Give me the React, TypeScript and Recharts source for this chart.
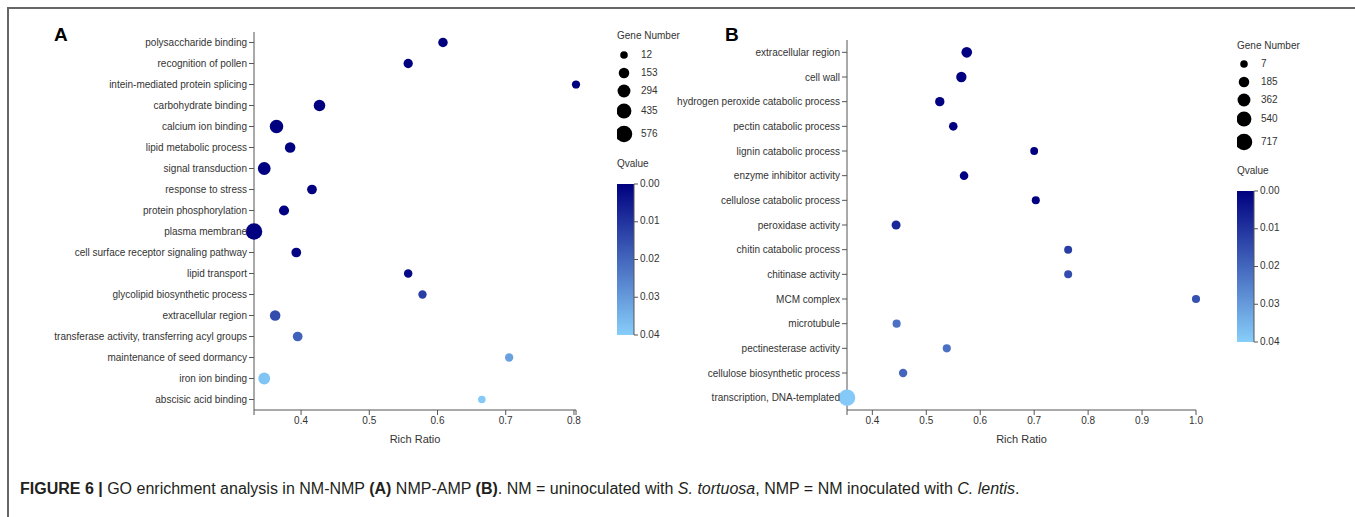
import { ScatterChart, Scatter, XAxis, YAxis, ZAxis, Cell } from 'recharts';

// panel A: NM-NMP
const termsA = [
  'polysaccharide binding',
  'recognition of pollen',
  'intein-mediated protein splicing',
  'carbohydrate binding',
  'calcium ion binding',
  'lipid metabolic process',
  'signal transduction',
  'response to stress',
  'protein phosphorylation',
  'plasma membrane',
  'cell surface receptor signaling pathway',
  'lipid transport',
  'glycolipid biosynthetic process',
  'extracellular region',
  'transferase activity, transferring acyl groups',
  'maintenance of seed dormancy',
  'iron ion binding',
  'abscisic acid binding',
];
const ratioA = [0.608, 0.557, 0.803, 0.427, 0.364, 0.384, 0.346, 0.416, 0.375, 0.331, 0.393, 0.557, 0.578, 0.362, 0.395, 0.705, 0.346, 0.665];
const genesA = [99, 90, 40, 210, 341, 153, 287, 110, 131, 576, 110, 50, 45, 153, 110, 45, 223, 12];
const qA = [0, 0, 0, 0, 0, 0, 0, 0, 0, 0, 0.001, 0.002, 0.012, 0.015, 0.019, 0.031, 0.038, 0.039];
const geneTicksA = [12, 153, 294, 435, 576];

// panel B: NMP-AMP
const termsB = [
  'extracellular region',
  'cell wall',
  'hydrogen peroxide catabolic process',
  'pectin catabolic process',
  'lignin catabolic process',
  'enzyme inhibitor activity',
  'cellulose catabolic process',
  'peroxidase activity',
  'chitin catabolic process',
  'chitinase activity',
  'MCM complex',
  'microtubule',
  'pectinesterase activity',
  'cellulose biosynthetic process',
  'transcription, DNA-templated',
];
const ratioB = [0.575, 0.565, 0.525, 0.55, 0.7, 0.57, 0.703, 0.444, 0.763, 0.763, 1.0, 0.445, 0.538, 0.457, 0.353];
const genesB = [191, 170, 107, 61, 20, 61, 30, 86, 28, 28, 35, 35, 35, 50, 717];
const qB = [0, 0, 0, 0, 0, 0, 0, 0.008, 0.012, 0.015, 0.016, 0.022, 0.022, 0.02, 0.039];
const geneTicksB = [7, 185, 362, 540, 717];

const qTicks = [0, 0.01, 0.02, 0.03, 0.04];
const ratioTicksA = [0.4, 0.5, 0.6, 0.7, 0.8];
const ratioTicksB = [0.4, 0.5, 0.6, 0.7, 0.8, 0.9, 1.0];

const FONT = '"Liberation Sans", Arial, sans-serif';
const AXIS = '#555';
const LABEL = '#333';
const Z_RANGE: [number, number] = [45, 215];
const Q_MAX = 0.04;
const DARK = [0, 0, 128];
const LIGHT = [135, 206, 250];

function qColor(q: number) {
  const t = Math.max(0, Math.min(1, q / Q_MAX));
  const c = DARK.map((d, i) => Math.round(d + (LIGHT[i] - d) * t));
  return `rgb(${c[0]},${c[1]},${c[2]})`;
}

function build(terms: string[], ratio: number[], genes: number[], q: number[]) {
  return terms.map((term, i) => ({ term, ratio: ratio[i], genes: genes[i], q: q[i] }));
}

const tickStyle = { fontSize: 10, fill: LABEL, fontFamily: FONT };

// single-line category labels (recharts wraps long ones otherwise)
function TermTick(props: any) {
  const { x, y, payload } = props;
  return (
    <text x={x} y={y} textAnchor="end" dominantBaseline="central" fontSize={10} fill={LABEL} fontFamily={FONT}>
      {payload.value}
    </text>
  );
}

interface PanelProps {
  data: { term: string; ratio: number; genes: number; q: number }[];
  left: number;
  width: number;
  top: number;
  yWidth: number;
  marginLeft: number;
  domain: [number, number];
  ticks: number[];
  zDomain: [number, number];
}

function Panel({ data, left, width, top, yWidth, marginLeft, domain, ticks, zDomain }: PanelProps) {
  // d3-like outer ticks at the domain ends, unlabelled
  const allTicks = Array.from(new Set([domain[0], ...ticks, domain[1]]));
  return (
    <div style={{ position: 'absolute', left, top: 0 }}>
      <ScatterChart width={width} height={450} margin={{ top, right: 24, left: marginLeft, bottom: 0 }}>
        <XAxis
          type="number"
          dataKey="ratio"
          domain={domain}
          ticks={allTicks}
          interval={0}
          height={40}
          tick={tickStyle}
          tickSize={5}
          tickMargin={2}
          stroke={AXIS}
          tickFormatter={(v: number) => (ticks.includes(v) ? v.toFixed(1) : '')}
          label={{ value: 'Rich Ratio', position: 'insideBottom', offset: 7, style: { fontSize: 11, fill: LABEL, fontFamily: FONT } }}
        />
        <YAxis
          type="category"
          dataKey="term"
          width={yWidth}
          tick={<TermTick />}
          tickSize={5}
          tickMargin={2}
          stroke={AXIS}
          interval={0}
          reversed
        />
        <ZAxis type="number" dataKey="genes" range={Z_RANGE} domain={zDomain} />
        <Scatter data={data} isAnimationActive={false}>
          {data.map((d, i) => (
            <Cell key={i} fill={qColor(d.q)} />
          ))}
        </Scatter>
      </ScatterChart>
    </div>
  );
}

function radiusFor(g: number, zDomain: [number, number]) {
  const t = (g - zDomain[0]) / (zDomain[1] - zDomain[0]);
  const area = Z_RANGE[0] + (Z_RANGE[1] - Z_RANGE[0]) * t;
  return Math.sqrt(area / Math.PI);
}

function Legend({ left, top, genes, zDomain, ys, barTop }: { left: number; top: number; genes: number[]; zDomain: [number, number]; ys: number[]; barTop: number }) {
  const barH = 151;
  const gid = `qgrad${left}`;
  return (
    <svg style={{ position: 'absolute', left, top: 0 }} width={80} height={360} fontFamily={FONT}>
      <defs>
        <linearGradient id={gid} x1="0" y1="0" x2="0" y2="1">
          <stop offset="0%" stopColor={qColor(0)} />
          <stop offset="100%" stopColor={qColor(Q_MAX)} />
        </linearGradient>
      </defs>
      <text x={0} y={top} fontSize={10} fill={LABEL} dominantBaseline="middle">Gene Number</text>
      {genes.map((g, i) => (
        <g key={g}>
          <circle cx={7} cy={ys[i]} r={radiusFor(g, zDomain)} fill="#000" />
          <text x={24} y={ys[i]} fontSize={10} fill={LABEL} dominantBaseline="middle">{g}</text>
        </g>
      ))}
      <text x={0} y={barTop - 20} fontSize={10} fill={LABEL} dominantBaseline="middle">Qvalue</text>
      <rect x={0} y={barTop} width={17} height={barH} fill={`url(#${gid})`} />
      <line x1={17} y1={barTop} x2={17} y2={barTop + barH} stroke={AXIS} />
      {qTicks.map((q) => {
        const y = barTop + (q / Q_MAX) * barH;
        return (
          <g key={q}>
            <line x1={17} y1={y} x2={21} y2={y} stroke={AXIS} />
            <text x={23} y={y} fontSize={10} fill={LABEL} dominantBaseline="middle">{q.toFixed(2)}</text>
          </g>
        );
      })}
    </svg>
  );
}

export default function App() {
  const dataA = build(termsA, ratioA, genesA, qA);
  const dataB = build(termsB, ratioB, genesB, qB);
  return (
    <div style={{ position: 'absolute', left: 0, top: 0, width: 1355, height: 517, background: '#fff', fontFamily: FONT, overflow: 'hidden' }}>
      <div style={{ position: 'absolute', left: 8, top: 7, width: 1347, height: 2, background: '#666' }} />
      <div style={{ position: 'absolute', left: 7, top: 7, width: 2, height: 510, background: '#666' }} />
      <div style={{ position: 'absolute', left: 54, top: 24, fontSize: 19, fontWeight: 'bold', fontFamily: FONT }}>A</div>
      <div style={{ position: 'absolute', left: 725, top: 24, fontSize: 19, fontWeight: 'bold', fontFamily: FONT }}>B</div>
      <Panel data={dataA} left={0} width={600} top={32} yWidth={248} marginLeft={6} domain={[0.331, 0.803]} ticks={ratioTicksA} zDomain={[12, 576]} />
      <Panel data={dataB} left={600} width={620} top={40} yWidth={240} marginLeft={7} domain={[0.353, 1.0]} ticks={ratioTicksB} zDomain={[7, 717]} />
      <Legend left={617} top={36} genes={geneTicksA} zDomain={[12, 576]} ys={[55, 73, 91, 111, 134]} barTop={184} />
      <Legend left={1237} top={46} genes={geneTicksB} zDomain={[7, 717]} ys={[64, 82, 100, 119, 142]} barTop={191} />
      <div style={{ position: 'absolute', left: 20, top: 480, fontSize: 16, color: '#231f20', fontFamily: FONT, whiteSpace: 'nowrap' }}>
        <b>FIGURE 6 |</b> GO enrichment analysis in NM-NMP <b>(A)</b> NMP-AMP <b>(B)</b>. NM = uninoculated with <i>S. tortuosa</i>, NMP = NM inoculated with <i>C. lentis</i>.
      </div>
    </div>
  );
}
